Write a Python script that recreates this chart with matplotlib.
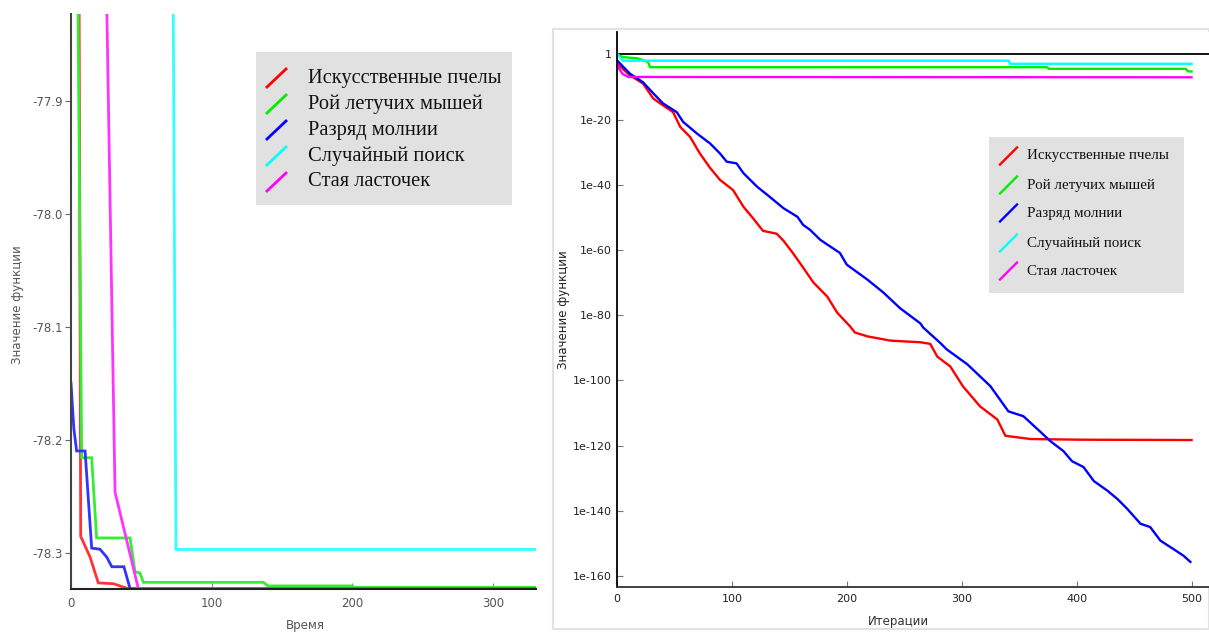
import matplotlib
matplotlib.use("Agg")
import matplotlib.pyplot as plt
import numpy as np
from matplotlib.lines import Line2D
from matplotlib.patches import Rectangle

# ---------------- data ----------------
legend_labels = ["Искусственные пчелы", "Рой летучих мышей", "Разряд молнии",
                 "Случайный поиск", "Стая ласточек"]
series_colors = ["#ff0000", "#00ee00", "#0000ff", "#00ffff", "#ff00ff"]

# Left panel (time vs function value)
L_red_x = [5.5, 6.9, 13.5, 19.4, 30.1, 40.8, 330.5]
L_red_y = [-77.70, -78.2857, -78.3037, -78.3268, -78.3275, -78.332, -78.332]
L_green_x = [4.2, 7.6, 14.7, 18.2, 42.0, 45.5, 49.0, 51.4, 136.7, 140.0, 200.0, 201.0, 330.5]
L_green_y = [-77.70, -78.216, -78.216, -78.287, -78.287, -78.317, -78.318, -78.3263,
             -78.3263, -78.3295, -78.3295, -78.3307, -78.3307]
L_blue_x = [0.0, 2.0, 4.0, 10.0, 14.7, 20.6, 25.4, 29.0, 37.6, 42.0, 330.5]
L_blue_y = [-78.15, -78.19, -78.21, -78.21, -78.296, -78.297, -78.304, -78.3125,
            -78.3125, -78.332, -78.332]
L_cyan_x = [72.2, 74.6, 330.5]
L_cyan_y = [-77.70, -78.2972, -78.2972]
L_mag_x = [25.2, 31.3, 47.9, 330.5]
L_mag_y = [-77.80, -78.2465, -78.332, -78.332]
L_yticks = [-77.9, -78.0, -78.1, -78.2, -78.3]
L_xticks = [0, 100, 200, 300]

# Right panel (iterations vs function value, log10 exponents)
R_ref_x = [0, 515]
R_ref_e = [0.0, 0.0]
R_red_x = [0, 11.3, 22.6, 31.5, 40, 48.8, 55, 63.6, 72, 81, 89.7, 101, 110, 118.5, 127,
           139, 145, 153, 162, 171, 183, 191.6, 203, 207, 218, 238, 264, 272.6, 278.7,
           290, 301, 316, 331, 338, 360, 403, 500]
R_red_e = [-2.8, -6.4, -8.9, -13.5, -15.6, -17.7, -22.2, -25.3, -30.3, -34.8, -38.5,
           -41.6, -46.7, -50.3, -54.1, -55.0, -57.2, -60.9, -65.4, -70.0, -74.3, -79.2,
           -83.5, -85.3, -86.5, -87.8, -88.3, -88.8, -92.7, -95.7, -101.8, -108.0,
           -112.0, -117.0, -118.0, -118.2, -118.3]
R_green_x = [0, 5, 18, 27, 28.7, 374, 376, 495, 497, 500]
R_green_e = [0.0, -0.8, -1.2, -2.3, -3.9, -3.9, -4.4, -4.4, -5.2, -5.2]
R_blue_x = [0, 11.3, 22.6, 31.5, 40, 52, 57.6, 69.4, 81, 89.7, 95.5, 104, 110, 122, 133,
            145, 157, 162, 168, 177, 194, 200, 218, 232, 246.5, 264, 266.5, 281, 287,
            305, 325, 340.6, 353.7, 368.5, 377, 388.5, 396, 406, 415, 427, 435.5, 444,
            455.6, 464, 473, 484, 493, 499]
R_blue_e = [-1.8, -5.9, -8.5, -11.9, -15.0, -17.7, -20.7, -24.2, -27.3, -30.4, -32.9,
            -33.4, -36.4, -40.6, -43.7, -47.2, -49.8, -52.3, -53.8, -56.9, -60.9, -64.5,
            -69.1, -73.1, -77.9, -82.5, -83.8, -88.4, -90.5, -95.1, -101.8, -109.5,
            -111.0, -115.8, -118.6, -121.7, -124.8, -126.6, -130.9, -133.9, -136.4,
            -139.4, -144.0, -145.0, -149.2, -151.7, -153.8, -155.7]
R_cyan_x = [0, 5, 341, 342, 500]
R_cyan_e = [0.3, -1.9, -1.9, -2.85, -2.85]
R_mag_x = [0, 2, 5, 10, 500]
R_mag_e = [-2.8, -4.5, -6.0, -6.9, -7.0]
R_yticks_e = [0, -20, -40, -60, -80, -100, -120, -140, -160]
R_xticks = [0, 100, 200, 300, 400, 500]

# ---------------- figure ----------------
W, H = 1209, 632
fig = plt.figure(figsize=(W / 100, H / 100), dpi=100)
fig.patch.set_facecolor("white")


def fx(px):
    return px / W


def fy(py):
    return 1 - py / H


# ---- left panel ----
axL = fig.add_axes([fx(71), fy(589), fx(536) - fx(71), fy(14) - fy(589)])
left_series = [(L_red_x, L_red_y), (L_green_x, L_green_y), (L_blue_x, L_blue_y),
               (L_cyan_x, L_cyan_y), (L_mag_x, L_mag_y)]
left_colors = ["#ff3333", "#33ee33", "#3333ff", "#33ffff", "#ff33ff"]
for (xs, ys), c in zip(left_series, left_colors):
    axL.plot(xs, ys, color=c, lw=2.0, solid_joinstyle="miter", clip_on=True)
axL.set_xlim(0, 330.5)
axL.set_ylim(-78.3322, -77.8232)
axL.set_yticks(L_yticks)
axL.set_yticklabels([f"{v:.1f}" for v in L_yticks])
axL.set_xticks(L_xticks)
for s in ["top", "right"]:
    axL.spines[s].set_visible(False)
axL.spines["left"].set_color("#444444")
axL.spines["bottom"].set_color("#222222")
axL.spines["left"].set_linewidth(1.5)
axL.spines["bottom"].set_linewidth(1.5)
axL.tick_params(axis="y", direction="out", length=4, color="#666666",
                labelsize=8.5, labelcolor="#555555", pad=2)
axL.tick_params(axis="x", direction="in", length=4, color="#888888",
                labelsize=8.5, labelcolor="#555555", pad=6)
fig.text(fx(305), fy(625), "Время", ha="center", va="center", fontsize=8.5, color="#555555")
fig.text(fx(18), fy(305), "Значение функции", ha="center", va="center", fontsize=8.5,
         color="#555555", rotation=90)

# ---- right panel frame ----
fig.add_artist(Rectangle((fx(553), fy(629)), fx(1209) - fx(553), fy(29) - fy(629),
                         transform=fig.transFigure, facecolor="white",
                         edgecolor="#e2e2e2", lw=1.5, zorder=0))

axR = fig.add_axes([fx(617), fy(587), 1 - fx(617), fy(32) - fy(587)])
axR.set_yscale("log")
axR.plot(R_ref_x, 10.0 ** np.array(R_ref_e), color="black", lw=1.3)
right_series = [(R_red_x, R_red_e), (R_green_x, R_green_e), (R_blue_x, R_blue_e),
                (R_cyan_x, R_cyan_e), (R_mag_x, R_mag_e)]
for (xs, es), c in zip(right_series, series_colors):
    axR.plot(xs, 10.0 ** np.array(es), color=c, lw=1.7)
axR.set_xlim(0, 515.2)
axR.set_ylim(10.0 ** -163.4, 10.0 ** 6.9)
axR.set_yticks([10.0 ** e for e in R_yticks_e])
axR.set_yticklabels(["1" if e == 0 else f"1e{e}" for e in R_yticks_e])
axR.yaxis.set_minor_locator(matplotlib.ticker.NullLocator())
axR.set_xticks(R_xticks)
for s in ["top", "right"]:
    axR.spines[s].set_visible(False)
axR.spines["left"].set_color("black")
axR.spines["bottom"].set_color("#333333")
axR.spines["left"].set_linewidth(1.3)
axR.spines["bottom"].set_linewidth(1.3)
axR.tick_params(axis="both", direction="in", length=4, color="#777777",
                labelsize=8, labelcolor="#222222")
axR.tick_params(axis="y", pad=4)
axR.tick_params(axis="x", pad=5)
fig.text(fx(898), fy(621), "Итерации", ha="center", va="center", fontsize=8.5, color="#333333")
fig.text(fx(563), fy(310), "Значение функции", ha="center", va="center", fontsize=8.5,
         color="#222222", rotation=90)


# ---- legends (drawn by hand: diagonal handles) ----
def draw_legend(box, rows, hx0, hx1, hh, tx, fsize, lw):
    x0, y0, x1, y1 = box
    fig.add_artist(Rectangle((fx(x0), fy(y1)), fx(x1) - fx(x0), fy(y0) - fy(y1),
                             transform=fig.transFigure, facecolor="#e1e1e1",
                             edgecolor="none", zorder=5))
    for ry, lab, c in zip(rows, legend_labels, series_colors):
        fig.add_artist(Line2D([fx(hx0), fx(hx1)], [fy(ry + hh / 2), fy(ry - hh / 2)],
                              transform=fig.transFigure, color=c, lw=lw, zorder=6))
        fig.text(fx(tx), fy(ry), lab, ha="left", va="center", fontsize=fsize,
                 family="Liberation Serif", color="#111111", zorder=7)


draw_legend((256, 52, 512, 205), [78, 104, 130, 156, 182], 267, 286, 18, 308, 14.8, 2.0)
draw_legend((989, 137, 1184, 293), [156, 185, 213, 243, 271], 1000, 1017, 17, 1027, 10.8, 1.7)

fig.savefig("out.png", dpi=100)
